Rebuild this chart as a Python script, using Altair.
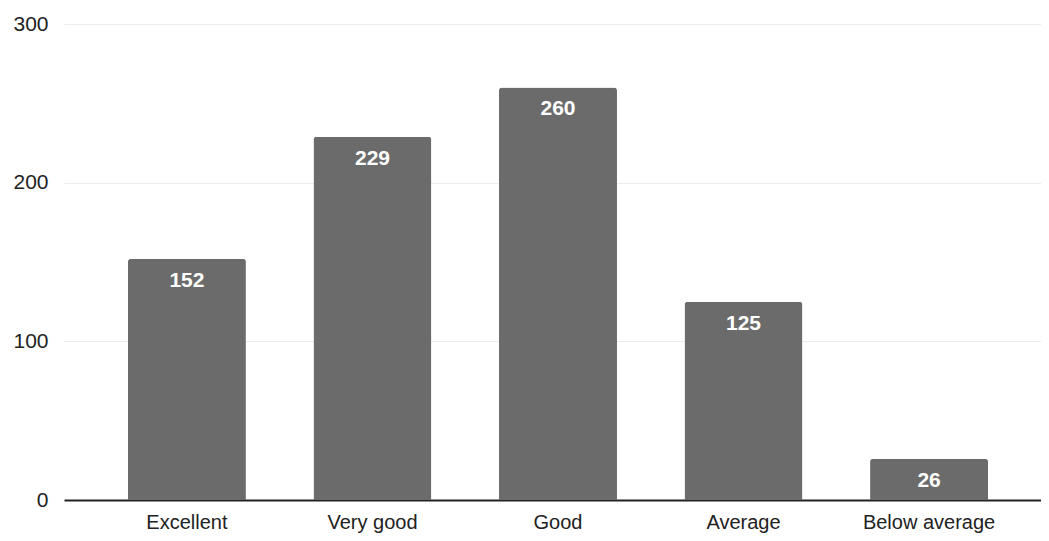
import altair as alt
import pandas as pd

categories = ["Excellent", "Very good", "Good", "Average", "Below average"]
values = [152, 229, 260, 125, 26]

df = pd.DataFrame({"rating": categories, "count": values})

FONT = "Liberation Sans"

x = alt.X(
    "rating:N",
    sort=categories,
    title=None,
    scale=alt.Scale(paddingInner=0.364, paddingOuter=0.315, align=0.547),
    axis=alt.Axis(
        labelAngle=0,
        labelFontSize=20,
        labelColor="#222222",
        labelFont=FONT,
        labelPadding=12,
        ticks=False,
        domainColor="#222222",
        domainWidth=2,
        grid=False,
    ),
)
y = alt.Y(
    "count:Q",
    title=None,
    scale=alt.Scale(domain=[0, 300], nice=False),
    axis=alt.Axis(
        values=[0, 100, 200, 300],
        labelFontSize=21,
        labelColor="#222222",
        labelFont=FONT,
        labelPadding=16,
        ticks=False,
        domain=False,
        gridColor="#ececec",
        gridWidth=1,
    ),
)

bars = alt.Chart(df).mark_bar(
    color="#6b6b6b", cornerRadiusTopLeft=3, cornerRadiusTopRight=3
).encode(x=x, y=y)

labels = alt.Chart(df).mark_text(
    color="white", fontSize=21, fontWeight="bold", font=FONT, baseline="middle", dy=22
).encode(
    x=alt.X("rating:N", sort=categories),
    y=alt.Y("count:Q"),
    text="count:Q",
)

chart = (
    alt.layer(bars, labels)
    .properties(
        width=977,
        height=476,
        background="white",
        autosize=alt.AutoSizeParams(type="none"),
        padding={"left": 56, "top": 16, "right": 0, "bottom": 40},
    )
    .configure_view(stroke="transparent", strokeWidth=0)
)

chart.save("out.html", embed_options={"renderer": "svg", "actions": False})
